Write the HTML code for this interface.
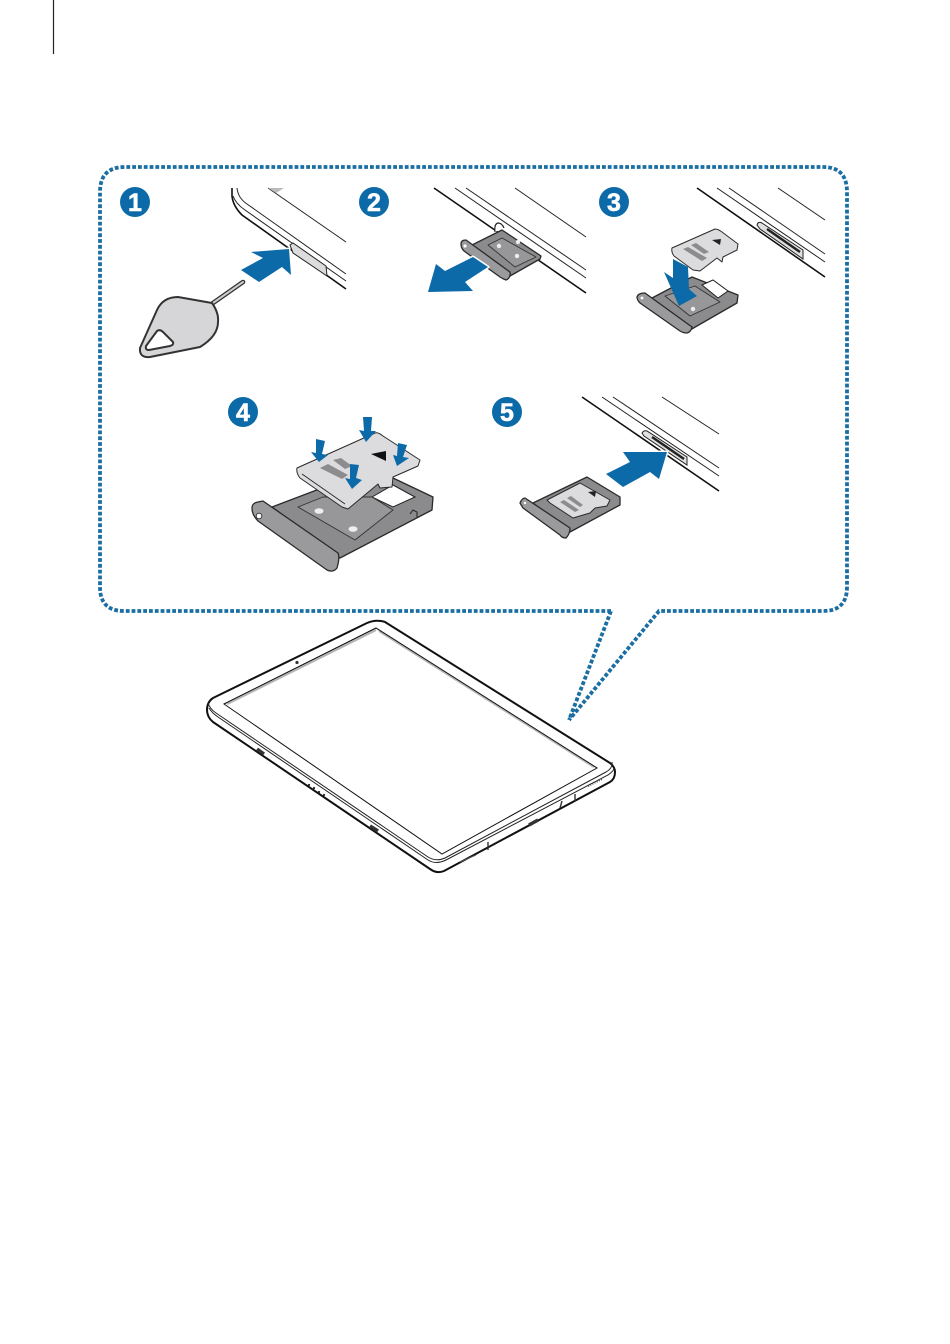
<!DOCTYPE html>
<html><head><meta charset="utf-8"><style>
html,body{margin:0;padding:0;background:#fff}
svg{display:block}
.d{fill:none;stroke:#111;stroke-width:1.6}
.t{fill:none;stroke:#222;stroke-width:1}
.b{fill:#0d6aa8}
.w{stroke:#fff;stroke-width:3;paint-order:stroke;stroke-linejoin:round}
.n{font:bold 25px "Liberation Sans",sans-serif;fill:#fff;text-anchor:middle}
.tr{fill:#8b8b8d;stroke:#2a2a2a;stroke-width:1.3;stroke-linejoin:round}
.in{fill:#979799;stroke:#333;stroke-width:.9;stroke-linejoin:round}
.tl{fill:#9a9a9c;stroke:#2a2a2a;stroke-width:1.3;stroke-linejoin:round}
.c{fill:#dcdcde;stroke:#2a2a2a;stroke-width:1;stroke-linejoin:round}
.s{fill:#8c8c8e}
.h{fill:#eee}
</style></head><body>
<svg width="950" height="1344" viewBox="0 0 950 1344" xmlns="http://www.w3.org/2000/svg">
<rect x="0" y="0" width="950" height="1344" fill="#fff"/>
<line x1="53.5" y1="0" x2="53.500" y2="54" stroke="#222" stroke-width="1.200"/>

<path d="M611 611 H124 Q100 611 100 587 V192 Q100 167 125 167 H823 Q847 167 847 192 V587 Q847 611 823 611 H659 L569 720 M611 611 L569 720" fill="none" stroke="#1a6ea3" stroke-width="3.800" stroke-dasharray="3.800 2"/>

<g class="b"><circle cx="135" cy="202" r="15"/><circle cx="374" cy="202" r="15"/><circle cx="614" cy="202" r="15"/><circle cx="243" cy="412" r="15"/><circle cx="507" cy="412" r="15"/></g>
<g stroke="#fff" stroke-width=".6"><text class="n" x="135" y="211">1</text><text class="n" x="374" y="211">2</text><text class="n" x="614" y="211">3</text><text class="n" x="243" y="421">4</text><text class="n" x="507" y="421">5</text></g>

<!-- panel 1 -->
<path class="d" d="M232 188 V196 Q233 206 242 215 L346 289"/>
<path class="t" d="M237 188 Q238 198 247 204 L346 274"/>
<path class="t" d="M233 196 Q236 204 245 210 L346 281"/>
<line class="t" x1="268" y1="188" x2="346" y2="242"/>
<polygon points="290,245 293,243 326,266 327,276 293,253" fill="#dcdcdc" stroke="#222" stroke-width="1"/>
<polygon points="268,188 284,188 276,193" fill="#bbb"/>
<polygon class="b w" points="251,252 289,249 291,275 282,267 259,282 241,270 263,258"/>
<path d="M243 282 L213 303" stroke="#333" stroke-width="4.600" stroke-linecap="round"/>
<path d="M243 282 L213 303" stroke="#ccc" stroke-width="2" stroke-linecap="round"/>
<path d="M212 303 Q219 313 218 322 Q218 336 200 347 L150 357 Q139 358 140 348 L157 310 Q163 297 178 297 Z" fill="#d6d6d8" stroke="#333" stroke-width="2" stroke-linejoin="round"/>
<path d="M157 331 Q160 329 163 332 L173 342 Q174 345 170 346 L149 350 Q145 350 146 346 Z" fill="#fff" stroke="#333" stroke-width="2" stroke-linejoin="round"/>

<!-- panel 2 -->
<path class="d" d="M434 188 L586 293"/>
<line class="t" x1="455" y1="188" x2="586" y2="278"/>
<line class="t" x1="466" y1="188" x2="586" y2="270"/>
<line class="t" x1="515" y1="188" x2="586" y2="237"/>
<path d="M495 232 Q494 224 498 223 Q502 223 504 228" fill="#fff" stroke="#222" stroke-width="1.200"/>
<polygon class="tr" points="472,245 502,230 541,256 540,259 510,276"/>
<polygon class="in" points="488,245 502,238 536,257 515,267"/>
<circle class="h" cx="499" cy="246" r="2.200"/><circle class="h" cx="518" cy="242" r="2.200"/><circle class="h" cx="517" cy="256" r="2.200"/>
<path class="tl" d="M461 244 Q461 240 466 240 L510 272 Q511 278 506 280 Q503 279 500 277 L464 251 Q461 248 461 244 Z"/>
<circle cx="465" cy="246" r="1.600" fill="#fff"/>
<polygon class="b w" points="473,257 488,267 465,282 473,291 428,292 436,264 445,271"/>

<!-- panel 3 -->
<path class="d" d="M697 188 L825 277"/>
<line class="t" x1="717" y1="188" x2="825" y2="262"/>
<line class="t" x1="729" y1="188" x2="825" y2="254"/>
<line class="t" x1="778" y1="188" x2="825" y2="220"/>
<path d="M757 225 Q758 221 762 223 L803 250 L803 259 L760 229 Z" fill="#e0e0e0" stroke="#222" stroke-width="1"/>
<path d="M767 229 L800 252" stroke="#222" stroke-width="2.400"/>
<polygon class="tr" points="652,298 692,277 738,295 737,303 690,330"/>
<polygon points="702,285 713,280 728,291 718,298" fill="#fff" stroke="#222" stroke-width="1"/>
<polygon class="in" points="665,296 695,286 720,302 690,316"/>
<circle class="h" cx="693" cy="309" r="2.200"/>
<path class="tl" d="M637 297 Q638 293 645 293 L692 327 Q691 332 687 333 Q683 333 680 331 L640 303 Q637 300 637 297 Z"/>
<circle cx="642" cy="298" r="1.400" fill="#fff"/>
<path class="c" d="M672 248 L715 229 Q718 229 722 232 L738 244 L737 250 L723 257 L722 262 L717 258 L700 271 L693 270 L674 256 Q671 252 672 248 Z"/>
<polygon class="s" points="683,249 688,247 707,258 702,261"/>
<polygon class="s" points="691,245 696,243 709,252 704,254"/>
<polygon points="712,240 721,239 720,245" fill="#222"/>
<polygon class="b" points="673,259 688,267 689,289 697,296 679,306 664,272 673,278"/>

<!-- panel 4 -->
<polygon class="tr" points="272,507 322,488 393,478 433,497 432,510 340,558"/>
<polygon points="372,497 393,485 415,497 393,507" fill="#fff" stroke="#222" stroke-width="1"/>
<polygon class="in" points="298,507 323,497 372,497 393,510 355,540"/>
<ellipse class="h" cx="319" cy="511" rx="4.500" ry="2.800"/><ellipse class="h" cx="353" cy="529" rx="4.500" ry="2.800"/>
<path d="M410 514 L413 510 L417 512 L417 517" fill="none" stroke="#222" stroke-width="1"/>
<path class="tl" d="M252 508 Q252 503 258 502 L263 501 L338 553 Q340 558 337 568 Q333 573 327 570 L258 521 Q252 515 252 508 Z"/>
<circle cx="259" cy="516" r="2.800" fill="#fff" stroke="#222" stroke-width=".8"/>
<path class="c" d="M297 468 L375 433 Q378 432 383 436 L420 460 L418 466 L393 477 L392 487 L380 488 L378 484 L348 509 L342 507 L300 478 Q296 473 297 468 Z"/>
<path d="M302 474 L345 504" stroke="#222" stroke-width=".8"/>
<polygon class="s" points="320,468 328,464 348,475 342,479"/>
<polygon class="s" points="333,460 341,458 352,466 345,469"/>
<polygon points="371,454 386,451 386,461" fill="#111"/>
<g class="b">
<polygon points="363,417 372,417 371,431 376,431 366,442 359,430 364,431"/>
<polygon points="316,439 325,441 322,454 328,455 319,462 311,452 316,453"/>
<polygon points="398,443 407,445 403,457 409,458 397,466 393,455 397,456"/>
<polygon points="350,464 359,465 356,478 362,480 352,489 345,478 350,479"/>
</g>

<!-- panel 5 -->
<path class="d" d="M582 397 L719 491"/>
<line class="t" x1="602" y1="397" x2="719" y2="476"/>
<line class="t" x1="613" y1="397" x2="719" y2="468"/>
<line class="t" x1="662" y1="397" x2="719" y2="434"/>
<path d="M642 433 Q644 430 647 431 L687 457 L687 465 L644 436 Z" fill="#e0e0e0" stroke="#222" stroke-width="1"/>
<path d="M652 437 L684 459" stroke="#222" stroke-width="2.400"/>
<polygon class="b w" points="623,452 667,452 659,479 650,472 623,487 606,474 630,462"/>
<polygon class="tr" points="533,503 587,477 620,497 620,505 570,532"/>
<path class="c" d="M547 500 L580 483 L610 500 L607 506 L595 508 L590 513 L573 518 L550 503 Z"/>
<polygon class="s" points="560,502 564,500 579,510 575,512"/>
<polygon class="s" points="567,498 571,496 583,505 580,507"/>
<polygon points="588,492 596,491 595,497" fill="#222"/>
<path class="tl" d="M520 503 Q522 498 525 498 L570 528 Q570 534 566 538 Q562 538 560 535 L523 508 Z"/>
<circle cx="525" cy="503" r="1.200" fill="#fff"/>

<!-- tablet -->
<path d="M367 623 Q376 619 385 622 L610 763 Q615 767 615 772 Q615 779 610 782 L444 871 Q437 874 430 869 L213 722 Q207 717 207 710 Q207 702 213 698 Z" fill="#fff" stroke="#111" stroke-width="2" stroke-linejoin="round"/>
<path class="t" d="M208 703 Q210 709 216 713 L428 857 Q436 862 445 858 L606 772 Q613 768 612 762"/>
<path class="t" d="M209 708 Q212 713 218 717 L428 860 Q436 865 446 860 L608 775 Q614 771 614 768"/>
<polygon points="376,628 597,768 442,854 224,704" fill="#fff" stroke="#111" stroke-width="1"/>
<path d="M376 630 L227 704 M379 631 L594 767" stroke="#b5b5b5" stroke-width="2.200" fill="none"/>
<polyline points="224,704 376,628 597,768" fill="none" stroke="#111" stroke-width=".9"/>
<circle cx="297" cy="662.500" r="1.600" fill="#333"/>
<g stroke="#333" stroke-width="3.400" fill="none">
<line x1="257" y1="749" x2="264" y2="754"/>
<line x1="370" y1="826" x2="378" y2="831"/>
<line x1="529" y1="825" x2="538" y2="820"/>
</g>
<g fill="#222"><circle cx="309" cy="785" r="1.100"/><circle cx="314" cy="788" r="1.100"/><circle cx="319" cy="792" r="1.100"/><circle cx="324" cy="795" r="1.100"/></g>
<path d="M488 842 V850 M562 801 L560 808 M575 794 V801" stroke="#333" stroke-width="1.400" fill="none"/>
<path d="M588 786 L602 779" stroke="#444" stroke-width="2" stroke-dasharray="1 1.400" fill="none"/>
<path d="M460 862 L476 855" stroke="#555" stroke-width="1" fill="none"/>
</svg>
</body></html>
